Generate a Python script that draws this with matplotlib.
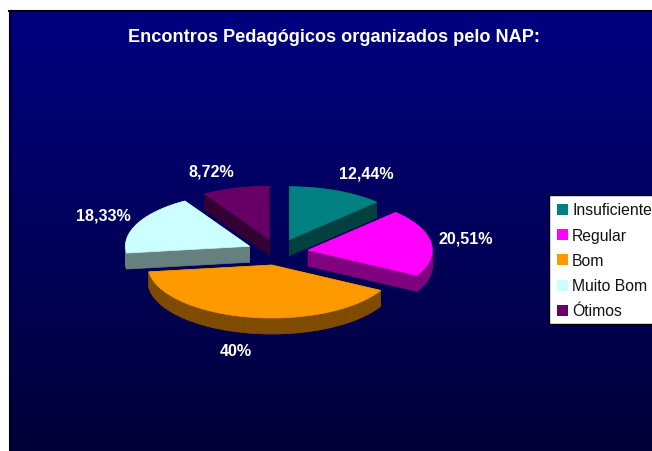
import numpy as np
import matplotlib
matplotlib.use("Agg")
import matplotlib.pyplot as plt
from matplotlib.patches import Polygon, Rectangle

plt.rcParams["font.family"] = ["Liberation Sans", "DejaVu Sans"]

# valeurs du camembert, dans l'ordre horaire depuis le haut
categories = ["Insuficiente", "Regular", "Bom", "Muito Bom", "Ótimos"]
values = [12.44, 20.51, 40, 18.33, 8.72]
value_labels = ["12,44%", "20,51%", "40%", "18,33%", "8,72%"]
colors = ["#008080", "#FF00FF", "#FF9900", "#CCFFFF", "#660066"]
side_colors = ["#004040", "#800080", "#804C00", "#668080", "#330033"]
label_pos = [(366, 174), (466, 239), (236, 352), (103, 216), (211, 172)]
title = "Encontros Pedagógicos organizados pelo NAP:"

CX, CY = 277.5, 253
RX, RY = 124, 53
EXPLODE = 0.25
DEPTH = 16


def wedge_outline(start, end):
    """Contour de la part (angles en degrés, sens horaire depuis le haut)."""
    mid = np.radians((start + end) / 2)
    tip_x = CX + EXPLODE * RX * np.sin(mid)
    tip_y = CY - EXPLODE * RY * np.cos(mid)
    t = np.radians(np.linspace(start, end, 80))
    xs = tip_x + RX * np.sin(t)
    ys = tip_y - RY * np.cos(t)
    return np.column_stack([np.r_[tip_x, xs], np.r_[tip_y, ys]])


fig = plt.figure(figsize=(6.52, 4.52), dpi=100, facecolor="white")
ax = fig.add_axes([0, 0, 1, 1])
ax.set_xlim(0, 652)
ax.set_ylim(452, 0)
ax.axis("off")

# fond en dégradé vertical
grad = np.zeros((256, 1, 3))
grad[:, 0, 2] = np.linspace(0x80, 0x38, 256) / 255
ax.imshow(grad, extent=(9, 652, 452, 11), aspect="auto", zorder=0)
ax.set_xlim(0, 652)
ax.set_ylim(452, 0)
ax.plot([9.5, 9.5], [452, 11.5], color="#000020", lw=1.5, zorder=1)
ax.plot([9, 652], [11.5, 11.5], color="#000010", lw=1.5, zorder=1)

fractions = np.array(values) / sum(values)
edges = np.r_[0, np.cumsum(fractions)] * 360

# ordre de dessin : de l'arrière vers l'avant
for i in [4, 0, 3, 1, 2]:
    outline = wedge_outline(edges[i], edges[i + 1])
    closed = np.vstack([outline, outline[0]])
    for a, b in zip(closed[:-1], closed[1:]):
        quad = [a, b, b + [0, DEPTH], a + [0, DEPTH]]
        ax.add_patch(Polygon(quad, closed=True, fc=side_colors[i], ec=side_colors[i], lw=0.5, zorder=2))
    ax.add_patch(Polygon(outline, closed=True, fc=colors[i], ec=colors[i], lw=0.5, zorder=3))

for txt, (x, y) in zip(value_labels, label_pos):
    ax.text(x, y, txt, color="white", fontsize=11.6, fontweight="bold", ha="center", va="center", zorder=5)

ax.text(334, 37, title, color="white", fontsize=13.1, fontweight="bold", ha="center", va="center", zorder=5)

# légende dessinée à la main, collée au bord droit comme sur l'original
ax.add_patch(Rectangle((549, 196), 110, 129, fc="white", ec="black", lw=1, zorder=4))
for k, name in enumerate(categories):
    y = 210.5 + k * 25.2
    ax.add_patch(Rectangle((557, y - 5.5), 11, 11, fc=colors[k], ec="none", zorder=5))
    ax.text(572, y + 0.5, name, color="#111111", fontsize=11.3, ha="left", va="center", zorder=5)

fig.savefig("out.png", dpi=100)
